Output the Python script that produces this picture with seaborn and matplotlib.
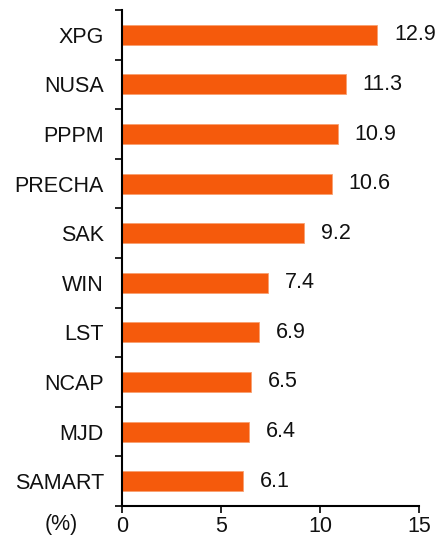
import numpy as np
import matplotlib
matplotlib.use("Agg")
import matplotlib.pyplot as plt
import seaborn as sns

# === DATA ===
stocks = ["XPG", "NUSA", "PPPM", "PRECHA", "SAK", "WIN", "LST", "NCAP", "MJD", "SAMART"]
values = [12.9, 11.3, 10.9, 10.6, 9.2, 7.4, 6.9, 6.5, 6.4, 6.1]
x_ticks = [0, 5, 10, 15]

bar_color = "#F55A0C"

sns.set_theme(style="white")
plt.rcParams["font.family"] = ["Liberation Sans", "DejaVu Sans"]

fig = plt.figure(figsize=(4.47, 5.38), dpi=100)
ax = fig.add_axes([0.273, 0.0595, 0.664, 0.9219])

sns.barplot(x=values, y=stocks, color=bar_color, width=0.4, orient="h",
            edgecolor="#F8A070", linewidth=0.6, saturation=1, ax=ax)

# value labels
for i, v in enumerate(values):
    ax.text(v + 0.85, i, f"{v:.1f}", va="center", ha="left", fontsize=15.5, color="#111111")

ax.set_xlim(0, 15)
ax.set_xticks(x_ticks)
ax.set_xticklabels([str(t) for t in x_ticks], fontsize=15.5, color="#111111")
ax.set_yticklabels(stocks, fontsize=15.5, color="#111111")
ax.set_xlabel("")
ax.set_ylabel("")

# category boundary ticks on y
ax.set_yticks(np.arange(-0.5, len(stocks), 1), minor=True)
ax.tick_params(axis="y", which="major", length=0, pad=13)
ax.tick_params(axis="y", which="minor", direction="out", length=5, width=1.2, color="black", left=True)
ax.tick_params(axis="x", which="major", direction="out", length=5, width=1.2, color="black",
               bottom=True, pad=2)

for side in ["top", "right"]:
    ax.spines[side].set_visible(False)
for side in ["left", "bottom"]:
    ax.spines[side].set_color("black")
    ax.spines[side].set_linewidth(1.5)

ax.text(-0.205, -0.038, "(%)", transform=ax.transAxes, fontsize=15.5, color="#111111",
        ha="center", va="center")

fig.savefig("out.png", dpi=100)
